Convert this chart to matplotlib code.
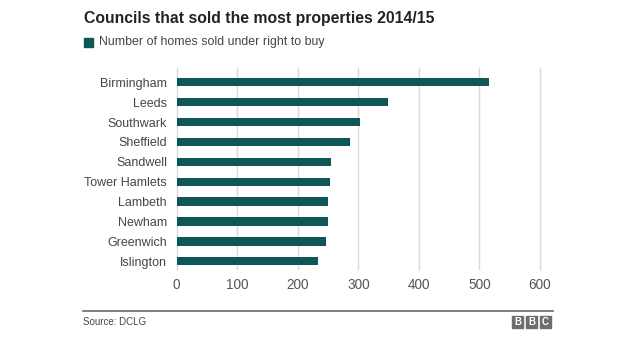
import matplotlib.pyplot as plt
from matplotlib.patches import Rectangle

plt.rcParams['font.family'] = ['Liberation Sans', 'DejaVu Sans']

councils = ["Birmingham", "Leeds", "Southwark", "Sheffield", "Sandwell",
            "Tower Hamlets", "Lambeth", "Newham", "Greenwich", "Islington"]
homes_sold = [516, 349, 303, 287, 255, 253, 250, 250, 246, 233]
x_ticks = [0, 100, 200, 300, 400, 500, 600]

bar_color = "#0e5756"
text_color = "#454545"

fig = plt.figure(figsize=(6.24, 3.51), dpi=100)
W, H = 624, 351

# axes box in pixel coords: x 176.7..540, y 68..269
ax = fig.add_axes([176.7 / W, 1 - 269 / H, (540 - 176.7) / W, (269 - 68) / H])

ypos = list(range(len(councils)))
ax.barh(ypos, homes_sold, height=0.42, color=bar_color, zorder=3)
ax.set_ylim(9.39, -0.72)
ax.set_xlim(0, 600)
ax.set_yticks(ypos)
ax.set_yticklabels(councils, fontsize=9, color=text_color)
ax.set_xticks(x_ticks)
ax.set_xticklabels([str(t) for t in x_ticks], fontsize=9.8, color="#555555")
ax.tick_params(axis='both', length=0)
ax.tick_params(axis='y', pad=7)
ax.tick_params(axis='x', pad=6.5)
for s in ax.spines.values():
    s.set_visible(False)
for t in x_ticks:
    ax.axvline(t, color="#d9d9d9", lw=1, zorder=1, clip_on=False)

# title and legend
fig.text(84 / W, 1 - 18 / H, "Councils that sold the most properties 2014/15",
         fontsize=11.3, fontweight='bold', color="#222222", va='center', ha='left')
fig.patches.append(Rectangle((84 / W, 1 - 47 / H), 9 / W, 9 / H,
                             transform=fig.transFigure, color=bar_color))
fig.text(99 / W, 1 - 42.5 / H, "Number of homes sold under right to buy",
         fontsize=8.9, color=text_color, va='center', ha='left')

# footer
fig.add_artist(plt.Line2D([83 / W, 553 / W], [1 - 311 / H, 1 - 311 / H],
                          transform=fig.transFigure, color="#6a6a6a", lw=1.2))
fig.text(83 / W, 1 - 322 / H, "Source: DCLG", fontsize=7, color=text_color,
         va='center', ha='left')
for i, letter in enumerate("BBC"):
    x0 = 512 + i * 14
    fig.patches.append(Rectangle((x0 / W, 1 - 328 / H), 11 / W, 12 / H,
                                 transform=fig.transFigure, color="#6e6e6e"))
    fig.text((x0 + 5.5) / W, 1 - 322 / H, letter, fontsize=7, fontweight='bold',
             color="white", va='center', ha='center')

fig.savefig("out.png", dpi=100, facecolor="white")
